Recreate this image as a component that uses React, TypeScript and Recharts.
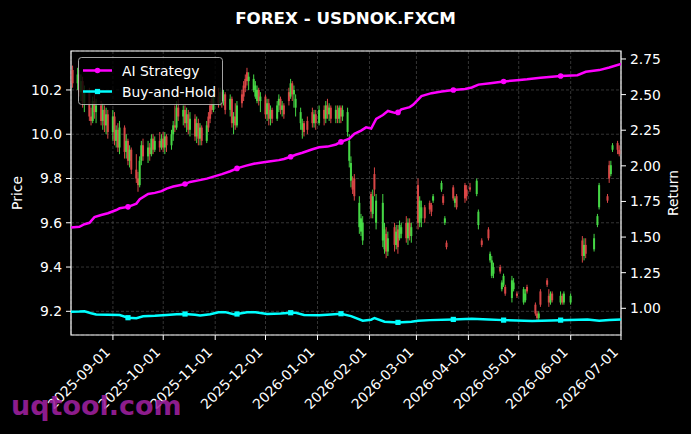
import React from 'react';
import { ComposedChart, Bar, Line, XAxis, YAxis, CartesianGrid, ReferenceArea } from 'recharts';

// ---------- data ----------
const CANDLE_DATES = [
  '2025-08-08','2025-08-11','2025-08-12','2025-08-13','2025-08-14','2025-08-15','2025-08-18','2025-08-19','2025-08-20','2025-08-21','2025-08-22',
  '2025-08-25','2025-08-26','2025-08-27','2025-08-28','2025-08-29',
  '2025-09-01','2025-09-02','2025-09-03','2025-09-04','2025-09-05','2025-09-08','2025-09-09','2025-09-10','2025-09-11','2025-09-12',
  '2025-09-15','2025-09-16','2025-09-17','2025-09-18','2025-09-19','2025-09-22','2025-09-23','2025-09-24','2025-09-25','2025-09-26',
  '2025-09-29','2025-09-30','2025-10-01','2025-10-02','2025-10-03',
  '2025-10-06','2025-10-07','2025-10-08','2025-10-09','2025-10-10','2025-10-13','2025-10-14','2025-10-15','2025-10-16','2025-10-17',
  '2025-10-20','2025-10-21','2025-10-22','2025-10-23','2025-10-24','2025-10-27','2025-10-28','2025-10-29','2025-10-30','2025-10-31',
  '2025-11-03','2025-11-04','2025-11-05','2025-11-06','2025-11-07','2025-11-10','2025-11-11','2025-11-12','2025-11-13','2025-11-14',
  '2025-11-17','2025-11-18','2025-11-19','2025-11-20','2025-11-21','2025-11-24','2025-11-25','2025-11-26','2025-11-27','2025-11-28',
  '2025-12-01','2025-12-02','2025-12-03','2025-12-04','2025-12-05','2025-12-08','2025-12-09','2025-12-10','2025-12-11','2025-12-12',
  '2025-12-15','2025-12-16','2025-12-17','2025-12-18','2025-12-19','2025-12-22','2025-12-23','2025-12-24','2025-12-26',
  '2025-12-29','2025-12-30','2025-12-31','2026-01-02',
  '2026-01-05','2026-01-06','2026-01-07','2026-01-08','2026-01-09','2026-01-12','2026-01-13','2026-01-14','2026-01-15','2026-01-16',
  '2026-01-19','2026-01-20','2026-01-21','2026-01-22','2026-01-23','2026-01-26','2026-01-27','2026-01-28',
  '2026-02-02','2026-02-03','2026-02-04','2026-02-05','2026-02-09','2026-02-10','2026-02-11','2026-02-12',
  '2026-02-16','2026-02-17','2026-02-18','2026-02-19','2026-02-20','2026-02-23','2026-02-24','2026-02-25','2026-02-26',
  '2026-03-02','2026-03-03','2026-03-04','2026-03-06','2026-03-09','2026-03-10','2026-03-11',
  '2026-03-16','2026-03-17','2026-03-18','2026-03-19','2026-03-23','2026-03-24','2026-03-25','2026-03-30','2026-03-31',
  '2026-04-02','2026-04-06','2026-04-07','2026-04-09','2026-04-13','2026-04-14','2026-04-15','2026-04-16',
  '2026-04-20','2026-04-21','2026-04-22','2026-04-23','2026-04-27','2026-04-28','2026-04-30',
  '2026-05-04','2026-05-05','2026-05-06','2026-05-11','2026-05-12','2026-05-13','2026-05-14',
  '2026-05-18','2026-05-19','2026-05-20','2026-05-21','2026-05-26','2026-05-27','2026-05-28','2026-06-01',
  '2026-06-08','2026-06-09','2026-06-10','2026-06-15','2026-06-17','2026-06-18',
  '2026-06-23','2026-06-24','2026-06-25','2026-06-26','2026-06-29','2026-06-30',
];
const OPEN = [
  10.29,10.23,10.27,10.19,10.24,10.14,10.19,10.08,10.06,10.15,10.10,
  10.13,10.06,10.11,10.04,10.09,
  10.01,10.08,9.97,10.02,9.94,10.03,9.92,9.97,9.88,9.93,
  9.84,9.80,9.77,9.88,9.95,9.90,9.94,9.91,9.98,9.93,
  9.97,9.94,9.98,9.94,9.99,
  9.95,10.00,10.04,10.03,10.12,10.08,10.11,10.05,10.09,10.02,
  10.07,9.99,10.05,9.98,10.03,9.97,10.08,10.13,10.16,10.11,
  10.17,10.14,10.19,10.15,10.18,10.11,10.16,10.05,10.08,10.04,
  10.18,10.22,10.25,10.28,10.24,10.20,10.17,10.15,10.20,10.15,
  10.17,10.09,10.14,10.07,10.11,10.07,10.13,10.16,10.11,10.13,
  10.19,10.17,10.23,10.18,10.12,10.05,10.02,10.05,10.06,
  10.10,10.05,10.09,10.05,
  10.11,10.07,10.13,10.09,10.12,10.07,10.11,10.07,10.12,10.08,
  10.01,9.88,9.79,9.79,9.80,9.58,9.56,9.52,
  9.73,9.64,9.82,9.60,9.52,9.48,9.55,9.47,
  9.58,9.50,9.57,9.53,9.55,9.60,9.53,9.60,9.54,
  9.77,9.60,9.62,9.67,9.69,9.68,9.70,
  9.75,9.72,9.60,9.51,9.76,9.69,9.72,9.77,9.75,
  9.76,9.73,9.59,9.52,9.57,9.43,9.36,9.37,
  9.40,9.30,9.32,9.31,9.26,9.30,9.28,
  9.24,9.25,9.31,9.23,9.19,9.17,9.29,
  9.34,9.27,9.24,9.28,9.24,9.27,9.24,9.24,
  9.52,9.45,9.50,9.48,9.59,9.67,
  9.72,9.86,9.82,9.93,9.96,9.93,
];
const HIGH = [
  10.31,10.30,10.29,10.27,10.26,10.22,10.21,10.12,10.17,10.18,10.16,
  10.15,10.14,10.13,10.12,10.11,
  10.11,10.10,10.04,10.05,10.06,10.04,10.00,9.98,9.95,9.94,
  9.91,9.83,9.90,9.97,9.98,9.97,9.96,10.00,10.00,9.99,
  10.01,10.00,10.01,10.01,10.00,
  10.02,10.06,10.13,10.15,10.16,10.13,10.13,10.12,10.11,10.10,
  10.09,10.08,10.07,10.05,10.04,10.06,10.10,10.15,10.18,10.19,
  10.21,10.21,10.20,10.20,10.19,10.18,10.17,10.10,10.14,10.15,
  10.20,10.24,10.27,10.30,10.28,10.27,10.24,10.22,10.21,10.19,
  10.18,10.16,10.16,10.13,10.12,10.15,10.18,10.17,10.15,10.14,
  10.21,10.25,10.24,10.22,10.18,10.12,10.07,10.06,10.08,
  10.12,10.11,10.11,10.13,
  10.13,10.15,10.16,10.14,10.13,10.13,10.13,10.13,10.13,10.13,
  10.12,10.00,9.90,9.81,9.82,9.72,9.64,9.63,
  9.74,9.75,9.85,9.73,9.73,9.60,9.58,9.56,
  9.60,9.59,9.59,9.61,9.60,9.63,9.62,9.62,9.60,
  9.80,9.72,9.70,9.68,9.70,9.69,9.73,
  9.79,9.73,9.63,9.52,9.77,9.72,9.73,9.78,9.77,
  9.78,9.80,9.66,9.53,9.58,9.47,9.45,9.42,
  9.41,9.34,9.37,9.32,9.36,9.35,9.29,
  9.31,9.30,9.32,9.24,9.20,9.20,9.30,
  9.35,9.30,9.29,9.29,9.29,9.28,9.29,9.28,
  9.54,9.53,9.53,9.55,9.64,9.78,
  9.73,9.88,9.88,9.96,9.97,9.95,
];
const LOW = [
  10.21,10.20,10.17,10.15,10.12,10.10,10.06,10.04,10.05,10.07,10.05,
  10.04,10.02,10.01,10.00,9.98,
  9.97,9.95,9.94,9.92,9.91,9.89,9.89,9.86,9.85,9.82,
  9.78,9.74,9.76,9.86,9.88,9.87,9.88,9.90,9.91,9.92,
  9.92,9.93,9.92,9.91,9.92,
  9.93,9.97,10.01,10.02,10.06,10.04,10.03,10.01,10.00,9.99,
  9.97,9.96,9.95,9.95,9.95,9.96,10.01,10.05,10.09,10.10,
  10.12,10.13,10.12,10.13,10.09,10.08,10.03,10.00,10.02,10.03,
  10.12,10.15,10.19,10.22,10.20,10.19,10.16,10.14,10.13,10.10,
  10.07,10.06,10.04,10.04,10.05,10.06,10.10,10.09,10.08,10.07,
  10.13,10.16,10.15,10.12,10.08,10.02,9.98,9.99,10.00,
  10.03,10.03,10.02,10.04,
  10.04,10.05,10.07,10.06,10.05,10.05,10.05,10.05,10.05,10.06,
  9.99,9.85,9.76,9.73,9.70,9.55,9.54,9.50,
  9.62,9.62,9.72,9.57,9.49,9.46,9.44,9.45,
  9.47,9.48,9.46,9.52,9.53,9.51,9.50,9.52,9.51,
  9.57,9.58,9.58,9.60,9.64,9.63,9.69,
  9.74,9.68,9.59,9.48,9.70,9.67,9.66,9.69,9.70,
  9.74,9.72,9.57,9.49,9.52,9.42,9.35,9.35,
  9.37,9.29,9.31,9.27,9.24,9.29,9.26,
  9.23,9.24,9.28,9.18,9.16,9.16,9.22,
  9.31,9.22,9.23,9.24,9.23,9.23,9.23,9.23,
  9.42,9.43,9.44,9.47,9.58,9.66,
  9.69,9.78,9.81,9.92,9.91,9.90,
];
const CLOSE = [
  10.23,10.27,10.19,10.24,10.14,10.19,10.08,10.06,10.15,10.10,10.13,
  10.06,10.11,10.04,10.09,10.01,
  10.08,9.97,10.02,9.94,10.03,9.92,9.97,9.88,9.93,9.84,
  9.80,9.77,9.88,9.95,9.90,9.94,9.91,9.98,9.93,9.97,
  9.94,9.98,9.94,9.99,9.95,
  10.00,10.04,10.03,10.12,10.08,10.11,10.05,10.09,10.02,10.07,
  9.99,10.05,9.98,10.03,9.97,10.04,10.03,10.07,10.11,10.17,
  10.14,10.19,10.15,10.18,10.11,10.16,10.05,10.08,10.04,10.13,
  10.14,10.17,10.21,10.24,10.26,10.25,10.22,10.20,10.15,10.17,
  10.09,10.14,10.07,10.11,10.07,10.13,10.16,10.11,10.13,10.09,
  10.15,10.23,10.18,10.20,10.16,10.10,10.05,10.01,10.02,
  10.05,10.09,10.05,10.11,
  10.07,10.13,10.09,10.12,10.07,10.11,10.07,10.12,10.08,10.11,
  10.10,9.97,9.87,9.75,9.72,9.69,9.62,9.60,
  9.65,9.72,9.75,9.70,9.69,9.57,9.47,9.53,
  9.50,9.56,9.49,9.59,9.58,9.53,9.60,9.54,9.58,
  9.60,9.70,9.67,9.62,9.66,9.65,9.72,
  9.78,9.69,9.62,9.49,9.71,9.71,9.67,9.71,9.72,
  9.75,9.79,9.65,9.50,9.53,9.46,9.43,9.40,
  9.38,9.33,9.36,9.28,9.34,9.33,9.27,
  9.30,9.28,9.29,9.19,9.17,9.19,9.23,
  9.32,9.24,9.28,9.25,9.27,9.24,9.28,9.27,
  9.45,9.50,9.46,9.53,9.63,9.77,
  9.70,9.80,9.86,9.95,9.93,9.91,
];

const AI_DATES = [
  '2025-08-07','2025-08-12','2025-08-15','2025-08-18','2025-08-21','2025-08-25','2025-08-29','2025-09-03','2025-09-05','2025-09-10',
  '2025-09-15','2025-09-17','2025-09-22','2025-09-26','2025-09-30','2025-10-03','2025-10-07','2025-10-10','2025-10-14','2025-10-17',
  '2025-10-22','2025-10-27','2025-10-31','2025-11-05','2025-11-10','2025-11-14','2025-11-19','2025-11-24','2025-11-28','2025-12-03',
  '2025-12-09','2025-12-12','2025-12-16','2025-12-19','2025-12-23','2025-12-29','2026-01-02','2026-01-07','2026-01-12','2026-01-15',
  '2026-01-20','2026-01-23','2026-01-27','2026-01-30','2026-02-02','2026-02-05','2026-02-09','2026-02-12','2026-02-16','2026-02-18',
  '2026-02-20','2026-02-25','2026-02-27','2026-03-02','2026-03-04','2026-03-10','2026-03-16','2026-03-23','2026-03-30','2026-04-03',
  '2026-04-07','2026-04-14','2026-04-22','2026-04-30','2026-05-06','2026-05-14','2026-05-26','2026-06-05','2026-06-10','2026-06-18',
  '2026-06-24','2026-07-01',
];
const AI_VALUES = [
  1.568,1.572,1.590,1.600,1.640,1.655,1.667,1.690,1.702,1.712,
  1.735,1.765,1.802,1.810,1.822,1.840,1.855,1.862,1.872,1.887,
  1.898,1.910,1.924,1.942,1.962,1.982,2.000,2.015,2.022,2.030,
  2.040,2.048,2.064,2.078,2.092,2.116,2.130,2.135,2.150,2.168,
  2.190,2.225,2.247,2.270,2.262,2.330,2.357,2.385,2.372,2.375,
  2.397,2.412,2.428,2.465,2.490,2.510,2.522,2.532,2.540,2.550,
  2.570,2.580,2.592,2.600,2.607,2.619,2.631,2.636,2.660,2.672,
  2.690,2.715,
];

const BH_DATES = [
  '2025-08-07','2025-08-12','2025-08-15','2025-08-19','2025-08-22','2025-08-29','2025-09-05','2025-09-10','2025-09-15','2025-09-19',
  '2025-09-26','2025-10-03','2025-10-09','2025-10-14','2025-10-20','2025-10-23','2025-10-29','2025-11-03','2025-11-07','2025-11-12',
  '2025-11-14','2025-11-20','2025-11-25','2025-12-02','2025-12-10','2025-12-16','2025-12-19','2025-12-24','2026-01-02','2026-01-09',
  '2026-01-15','2026-01-21','2026-01-28','2026-02-02','2026-02-04','2026-02-10','2026-02-18','2026-02-26','2026-03-02','2026-03-09',
  '2026-03-23','2026-04-03','2026-04-13','2026-04-22','2026-05-09','2026-05-26','2026-06-11','2026-06-18','2026-06-24','2026-07-01',
];
const BH_VALUES = [
  0.976,0.977,0.979,0.965,0.957,0.955,0.953,0.934,0.930,0.944,
  0.947,0.953,0.958,0.960,0.955,0.950,0.958,0.972,0.973,0.958,
  0.960,0.972,0.973,0.960,0.963,0.969,0.968,0.953,0.952,0.957,
  0.962,0.945,0.913,0.920,0.932,0.906,0.901,0.905,0.913,0.917,
  0.922,0.927,0.922,0.917,0.911,0.917,0.922,0.913,0.918,0.922,
];

const MARKER_DATES = [
  '2025-09-10','2025-10-14','2025-11-14','2025-12-16','2026-01-15','2026-02-18','2026-03-23','2026-04-22','2026-05-26',
];

const X_TICKS = [
  '2025-09-01','2025-10-01','2025-11-01','2025-12-01','2026-01-01','2026-02-01',
  '2026-03-01','2026-04-01','2026-05-01','2026-06-01','2026-07-01',
];
const X_RANGE = ['2025-08-07', '2026-07-01'];
const PRICE_TICKS = [9.2, 9.4, 9.6, 9.8, 10.0, 10.2];
const PRICE_RANGE = [9.093, 10.376];
const RETURN_TICKS = [1.0, 1.25, 1.5, 1.75, 2.0, 2.25, 2.5, 2.75];
const RETURN_RANGE = [0.8126, 2.806];

const TITLE = 'FOREX - USDNOK.FXCM';
const SERIES_NAMES = ['AI Strategy', 'Buy-and-Hold'];
const WATERMARK = 'uqtool.com';

// ---------- derived tables ----------
const ts = (s: string) => Date.parse(s);
const candles = CANDLE_DATES.map((d, i) => ({ t: ts(d), o: OPEN[i], h: HIGH[i], l: LOW[i], c: CLOSE[i] }));
const aiData = AI_DATES.map((d, i) => ({ t: ts(d), v: AI_VALUES[i] }));
const bhData = BH_DATES.map((d, i) => ({ t: ts(d), v: BH_VALUES[i] }));
const markerSet = new Set(MARKER_DATES.map(ts));

const FONT = 'DejaVu Sans';
const GREEN = '#4dee4d';
const RED = '#f04e4e';
const MAGENTA = '#ff00ff';
const CYAN = '#00ffff';

function CandleShape(props: any) {
  const { x, y, width, height, payload } = props;
  if (x == null || y == null || !payload) return <g />;
  const top = height >= 0 ? y : y + height;
  const bottom = height >= 0 ? y + height : y;
  const span = payload.h - payload.l;
  const k = span > 0 ? (bottom - top) / span : 0;
  const yO = top + (payload.h - payload.o) * k;
  const yC = top + (payload.h - payload.c) * k;
  const color = payload.c >= payload.o ? GREEN : RED;
  const cx = x + width / 2;
  const bTop = Math.min(yO, yC);
  const bH = Math.max(1, Math.abs(yO - yC));
  return (
    <g opacity={0.9}>
      <line x1={cx} x2={cx} y1={top} y2={bottom} stroke={color} strokeWidth={1} />
      <rect x={cx - 1} y={bTop} width={2} height={bH} fill={color} />
    </g>
  );
}

const CircleDot = (props: any) => {
  const { cx, cy, payload, index } = props;
  if (!payload || !markerSet.has(payload.t)) return <g key={`a${index}`} />;
  return <circle key={`a${index}`} cx={cx} cy={cy} r={2.8} fill={MAGENTA} />;
};
const SquareDot = (props: any) => {
  const { cx, cy, payload, index } = props;
  if (!payload || !markerSet.has(payload.t)) return <g key={`b${index}`} />;
  return <rect key={`b${index}`} x={cx - 2.6} y={cy - 2.6} width={5.2} height={5.2} fill={CYAN} />;
};

const DateTick = (props: any) => {
  const { x, y, payload } = props;
  const label = new Date(payload.value).toISOString().slice(0, 10);
  const ax = x - 2;
  const ay = y + 13;
  return (
    <text x={ax} y={ay} transform={`rotate(-45, ${ax}, ${ay})`} textAnchor="end" fill="#ffffff" fontSize={13.9} fontFamily={FONT}>
      {label}
    </text>
  );
};

const tickStyle = { fill: '#ffffff', fontSize: 13.9, fontFamily: FONT };

export default function App() {
  return (
    <div style={{ position: 'absolute', left: 0, top: 0, width: 691, height: 434, background: '#000000', overflow: 'hidden' }}>
      <div style={{ position: 'absolute', left: 0, top: 0 }}>
        <ComposedChart width={691} height={434} data={candles} margin={{ top: 51, right: 8, bottom: 0, left: 8 }}>
          <CartesianGrid yAxisId="left" stroke="#4a4a4a" strokeDasharray="3 2" strokeWidth={0.7} />
          <XAxis
            dataKey="t"
            type="number"
            domain={[ts(X_RANGE[0]), ts(X_RANGE[1])]}
            ticks={X_TICKS.map(ts)}
            interval={0}
            allowDataOverflow
            height={99}
            tick={<DateTick />}
            tickSize={5}
            tickMargin={0}
            axisLine={false}
            tickLine={{ stroke: '#ffffff' }}
          />
          <YAxis
            yAxisId="left"
            orientation="left"
            domain={PRICE_RANGE}
            ticks={PRICE_TICKS}
            interval={0}
            allowDataOverflow
            width={63}
            tick={tickStyle}
            tickFormatter={(v: number) => v.toFixed(1)}
            tickSize={5}
            tickMargin={4}
            axisLine={false}
            tickLine={{ stroke: '#ffffff' }}
          />
          <YAxis
            yAxisId="right"
            orientation="right"
            domain={RETURN_RANGE}
            ticks={RETURN_TICKS}
            interval={0}
            allowDataOverflow
            width={62}
            tick={tickStyle}
            tickFormatter={(v: number) => v.toFixed(2)}
            tickSize={5}
            tickMargin={4}
            axisLine={false}
            tickLine={{ stroke: '#ffffff' }}
          />
          <Bar
            yAxisId="left"
            dataKey={(d: any) => [d.l, d.h]}
            barSize={3}
            shape={<CandleShape />}
            isAnimationActive={false}
          />
          <Line
            yAxisId="right"
            data={bhData}
            dataKey="v"
            stroke={CYAN}
            strokeWidth={2.5}
            dot={SquareDot}
            activeDot={false}
            isAnimationActive={false}
          />
          <Line
            yAxisId="right"
            data={aiData}
            dataKey="v"
            stroke={MAGENTA}
            strokeWidth={2.5}
            dot={CircleDot}
            activeDot={false}
            isAnimationActive={false}
          />
          <ReferenceArea
            yAxisId="left"
            x1={ts(X_RANGE[0])}
            x2={ts(X_RANGE[1])}
            y1={PRICE_RANGE[0]}
            y2={PRICE_RANGE[1]}
            fill="none"
            fillOpacity={0}
            stroke="#ffffff"
            strokeWidth={1.2}
            ifOverflow="visible"
          />
        </ComposedChart>
      </div>
      <svg width={691} height={434} style={{ position: 'absolute', left: 0, top: 0, pointerEvents: 'none' }}>
        <text x={345.5} y={24} textAnchor="middle" fontSize={16.7} fontWeight="bold" fontFamily={FONT} fill="#ffffff">{TITLE}</text>
        <text x={22} y={193} transform="rotate(-90, 22, 193)" textAnchor="middle" fontSize={13.9} fontFamily={FONT} fill="#ffffff">Price</text>
        <text x={678} y={193} transform="rotate(-90, 678, 193)" textAnchor="middle" fontSize={13.9} fontFamily={FONT} fill="#ffffff">Return</text>
        <rect x={78.5} y={57.5} width={144} height={47} rx={3} fill="rgba(0,0,0,0.8)" stroke="#cccccc" strokeOpacity={0.8} />
        <line x1={83} x2={112} y1={70.5} y2={70.5} stroke={MAGENTA} strokeWidth={2.5} />
        <circle cx={97.5} cy={70.5} r={2.8} fill={MAGENTA} />
        <text x={122} y={75.5} fontSize={13.9} fontFamily={FONT} fill="#ffffff">{SERIES_NAMES[0]}</text>
        <line x1={83} x2={112} y1={91.5} y2={91.5} stroke={CYAN} strokeWidth={2.5} />
        <rect x={94.9} y={88.9} width={5.2} height={5.2} fill={CYAN} />
        <text x={122} y={96.5} fontSize={13.9} fontFamily={FONT} fill="#ffffff">{SERIES_NAMES[1]}</text>
        <text x={11} y={415} fontSize={27} fontWeight="bold" fontFamily={FONT} fill="#a020a0" fillOpacity={0.88}>{WATERMARK}</text>
      </svg>
    </div>
  );
}
